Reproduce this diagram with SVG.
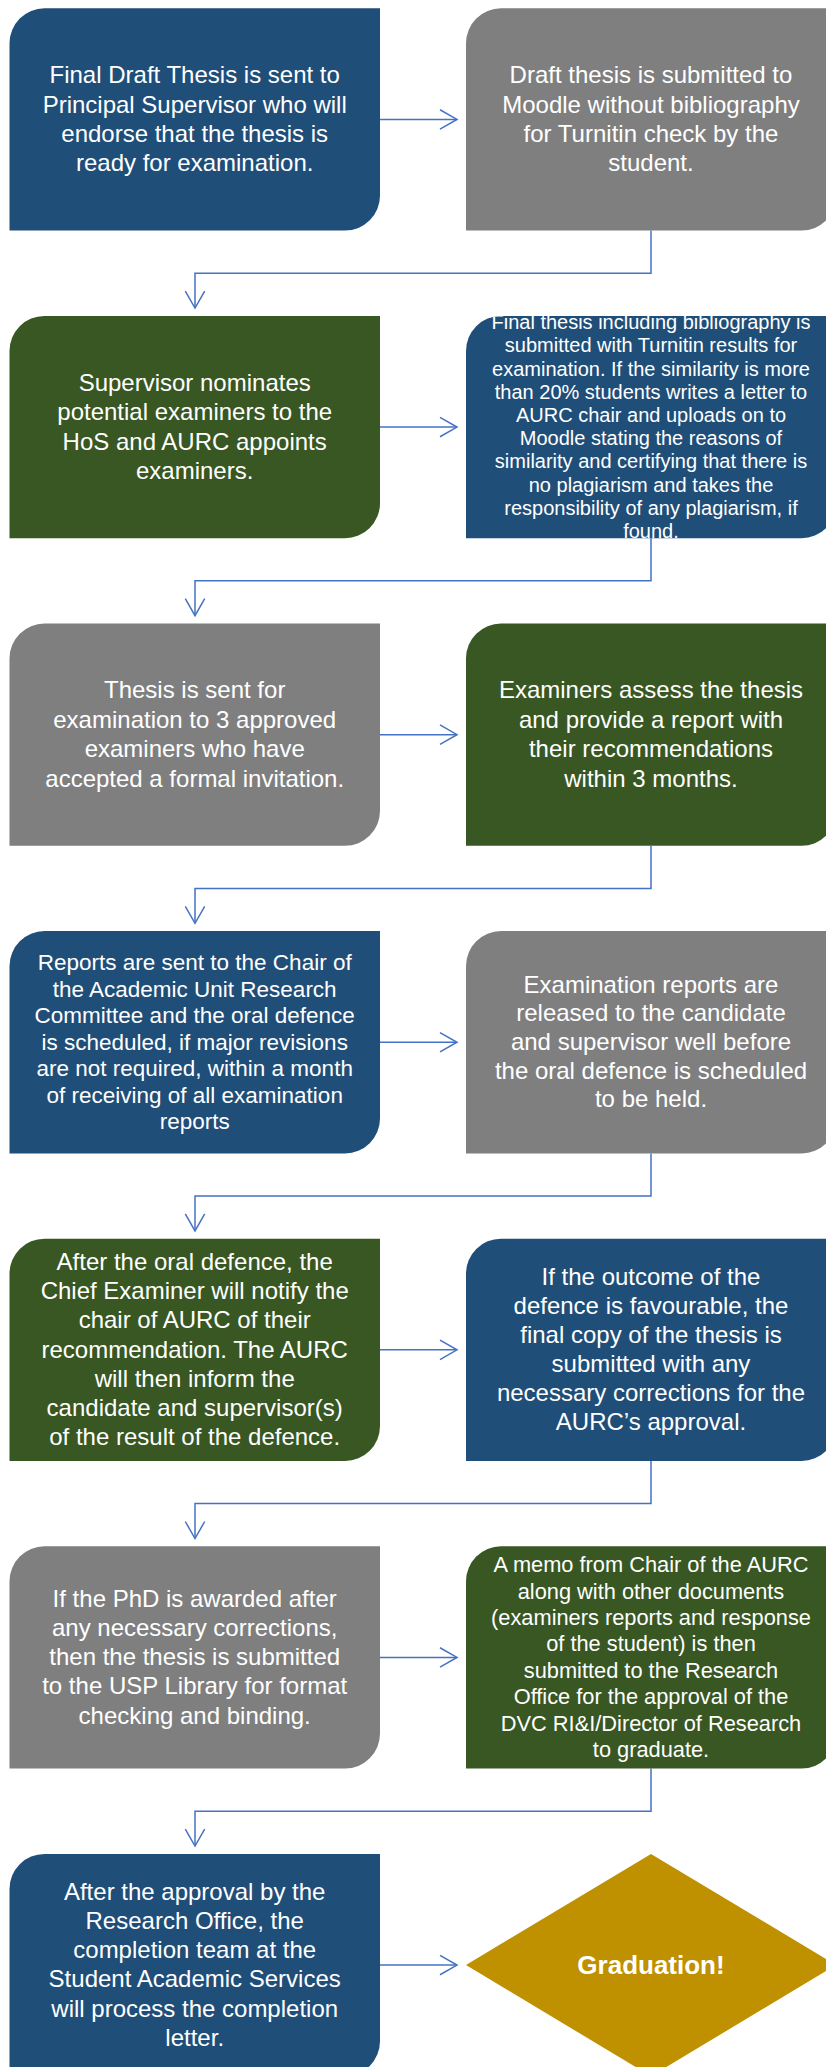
<svg xmlns="http://www.w3.org/2000/svg" width="826" height="2067" viewBox="0 0 826 2067">
<style>
.blue{fill:#1F4E79}
.gray{fill:#7F7F7F}
.green{fill:#385723}
.gold{fill:#BF9000}
text{fill:#FFFFFF;font-family:"Liberation Sans",Arial,sans-serif;text-anchor:middle}
.t24{font-size:24px}
.t20{font-size:20px}
.t22{font-size:22.5px}
.t21{font-size:21.8px}
.tb{font-size:26px;font-weight:bold}
.conn{fill:none;stroke:#4472C4;stroke-width:1.5}
</style>
<defs>
<marker id="arr" markerUnits="userSpaceOnUse" markerWidth="40" markerHeight="40" viewBox="-20 -20 40 40" refX="0" refY="0" orient="auto">
<path d="M-17,-9.7 L0,0 L-17,9.7" fill="none" stroke="#4472C4" stroke-width="1.5"/>
</marker>
<clipPath id="clip1R"><path d="M501,315.9 H836.5 V503.2 A35,35 0 0 1 801.5,538.2 H466 V350.9 A35,35 0 0 1 501,315.9 Z"/></clipPath>
</defs>
<rect width="826" height="2067" fill="#FFFFFF"/>

<g id="connectors">
<path class="conn" d="M380,119.45 H457" marker-end="url(#arr)"/>
<path class="conn" d="M380,427.05 H457" marker-end="url(#arr)"/>
<path class="conn" d="M380,734.65 H457" marker-end="url(#arr)"/>
<path class="conn" d="M380,1042.25 H457" marker-end="url(#arr)"/>
<path class="conn" d="M380,1349.85 H457" marker-end="url(#arr)"/>
<path class="conn" d="M380,1657.45 H457" marker-end="url(#arr)"/>
<path class="conn" d="M380,1965.05 H457" marker-end="url(#arr)"/>
<path class="conn" d="M651,230.6 V273.2 H195 V308.1" marker-end="url(#arr)"/>
<path class="conn" d="M651,538.2 V580.8 H195 V615.7" marker-end="url(#arr)"/>
<path class="conn" d="M651,845.8 V888.4 H195 V923.3" marker-end="url(#arr)"/>
<path class="conn" d="M651,1153.4 V1196 H195 V1230.9" marker-end="url(#arr)"/>
<path class="conn" d="M651,1461 V1503.6 H195 V1538.5" marker-end="url(#arr)"/>
<path class="conn" d="M651,1768.6 V1811.2 H195 V1846.1" marker-end="url(#arr)"/>
</g>

<g id="n0L">
<path class="blue" d="M44.5,8.3 H380 V195.6 A35,35 0 0 1 345,230.6 H9.5 V43.3 A35,35 0 0 1 44.5,8.3 Z"/>
<text class="t24" x="194.7" y="83">Final Draft Thesis is sent to</text>
<text class="t24" x="194.7" y="112.5">Principal Supervisor who will</text>
<text class="t24" x="194.7" y="141.9">endorse that the thesis is</text>
<text class="t24" x="194.7" y="171.3">ready for examination.</text>
</g>
<g id="n0R">
<path class="gray" d="M501,8.3 H836.5 V195.6 A35,35 0 0 1 801.5,230.6 H466 V43.3 A35,35 0 0 1 501,8.3 Z"/>
<text class="t24" x="651" y="83">Draft thesis is submitted to</text>
<text class="t24" x="651" y="112.5">Moodle without bibliography</text>
<text class="t24" x="651" y="141.9">for Turnitin check by the</text>
<text class="t24" x="651" y="171.3">student.</text>
</g>

<g id="n1L">
<path class="green" d="M44.5,315.9 H380 V503.2 A35,35 0 0 1 345,538.2 H9.5 V350.9 A35,35 0 0 1 44.5,315.9 Z"/>
<text class="t24" x="194.7" y="390.7">Supervisor nominates</text>
<text class="t24" x="194.7" y="420">potential examiners to the</text>
<text class="t24" x="194.7" y="449.5">HoS and AURC appoints</text>
<text class="t24" x="194.7" y="478.9">examiners.</text>
</g>
<g id="n1R">
<path class="blue" d="M501,315.9 H836.5 V503.2 A35,35 0 0 1 801.5,538.2 H466 V350.9 A35,35 0 0 1 501,315.9 Z"/>
<g clip-path="url(#clip1R)">
<text class="t20" x="651" y="329.2">Final thesis including bibliography is</text>
</g>
<text class="t20" x="651" y="352.4">submitted with Turnitin results for</text>
<text class="t20" x="651" y="375.6">examination. If the similarity is more</text>
<text class="t20" x="651" y="398.8">than 20% students writes a letter to</text>
<text class="t20" x="651" y="422">AURC chair and uploads on to</text>
<text class="t20" x="651" y="445.2">Moodle stating the reasons of</text>
<text class="t20" x="651" y="468.4">similarity and certifying that there is</text>
<text class="t20" x="651" y="491.6">no plagiarism and takes the</text>
<text class="t20" x="651" y="514.8">responsibility of any plagiarism, if</text>
<text class="t20" x="651" y="538">found.</text>
</g>

<g id="n2L">
<path class="gray" d="M44.5,623.5 H380 V810.8 A35,35 0 0 1 345,845.8 H9.5 V658.5 A35,35 0 0 1 44.5,623.5 Z"/>
<text class="t24" x="194.7" y="698.3">Thesis is sent for</text>
<text class="t24" x="194.7" y="727.7">examination to 3 approved</text>
<text class="t24" x="194.7" y="757">examiners who have</text>
<text class="t24" x="194.7" y="786.5">accepted a formal invitation.</text>
</g>
<g id="n2R">
<path class="green" d="M501,623.5 H836.5 V810.8 A35,35 0 0 1 801.5,845.8 H466 V658.5 A35,35 0 0 1 501,623.5 Z"/>
<text class="t24" x="651" y="698.3">Examiners assess the thesis</text>
<text class="t24" x="651" y="727.7">and provide a report with</text>
<text class="t24" x="651" y="757">their recommendations</text>
<text class="t24" x="651" y="786.5">within 3 months.</text>
</g>

<g id="n3L">
<path class="blue" d="M44.5,931.1 H380 V1118.4 A35,35 0 0 1 345,1153.4 H9.5 V966.1 A35,35 0 0 1 44.5,931.1 Z"/>
<text class="t22" x="194.7" y="970">Reports are sent to the Chair of</text>
<text class="t22" x="194.7" y="996.5">the Academic Unit Research</text>
<text class="t22" x="194.7" y="1023">Committee and the oral defence</text>
<text class="t22" x="194.7" y="1049.5">is scheduled, if major revisions</text>
<text class="t22" x="194.7" y="1076">are not required, within a month</text>
<text class="t22" x="194.7" y="1102.5">of receiving of all examination</text>
<text class="t22" x="194.7" y="1129">reports</text>
</g>
<g id="n3R">
<path class="gray" d="M501,931.1 H836.5 V1118.4 A35,35 0 0 1 801.5,1153.4 H466 V966.1 A35,35 0 0 1 501,931.1 Z"/>
<text class="t24" x="651" y="992.5">Examination reports are</text>
<text class="t24" x="651" y="1021.3">released to the candidate</text>
<text class="t24" x="651" y="1050">and supervisor well before</text>
<text class="t24" x="651" y="1078.7">the oral defence is scheduled</text>
<text class="t24" x="651" y="1107.4">to be held.</text>
</g>

<g id="n4L">
<path class="green" d="M44.5,1238.7 H380 V1426 A35,35 0 0 1 345,1461 H9.5 V1273.7 A35,35 0 0 1 44.5,1238.7 Z"/>
<text class="t24" x="194.7" y="1270">After the oral defence, the</text>
<text class="t24" x="194.7" y="1299.2">Chief Examiner will notify the</text>
<text class="t24" x="194.7" y="1328.4">chair of AURC of their</text>
<text class="t24" x="194.7" y="1357.6">recommendation. The AURC</text>
<text class="t24" x="194.7" y="1386.8">will then inform the</text>
<text class="t24" x="194.7" y="1416">candidate and supervisor(s)</text>
<text class="t24" x="194.7" y="1445.2">of the result of the defence.</text>
</g>
<g id="n4R">
<path class="blue" d="M501,1238.7 H836.5 V1426 A35,35 0 0 1 801.5,1461 H466 V1273.7 A35,35 0 0 1 501,1238.7 Z"/>
<text class="t24" x="651" y="1284.8">If the outcome of the</text>
<text class="t24" x="651" y="1313.9">defence is favourable, the</text>
<text class="t24" x="651" y="1343">final copy of the thesis is</text>
<text class="t24" x="651" y="1372.1">submitted with any</text>
<text class="t24" x="651" y="1401.2">necessary corrections for the</text>
<text class="t24" x="651" y="1430.3">AURC’s approval.</text>
</g>

<g id="n5L">
<path class="gray" d="M44.5,1546.3 H380 V1733.6 A35,35 0 0 1 345,1768.6 H9.5 V1581.3 A35,35 0 0 1 44.5,1546.3 Z"/>
<text class="t24" x="194.7" y="1606.7">If the PhD is awarded after</text>
<text class="t24" x="194.7" y="1635.9">any necessary corrections,</text>
<text class="t24" x="194.7" y="1665.2">then the thesis is submitted</text>
<text class="t24" x="194.7" y="1694.4">to the USP Library for format</text>
<text class="t24" x="194.7" y="1723.7">checking and binding.</text>
</g>
<g id="n5R">
<path class="green" d="M501,1546.3 H836.5 V1733.6 A35,35 0 0 1 801.5,1768.6 H466 V1581.3 A35,35 0 0 1 501,1546.3 Z"/>
<text class="t21" x="651" y="1572.2">A memo from Chair of the AURC</text>
<text class="t21" x="651" y="1598.6">along with other documents</text>
<text class="t21" x="651" y="1625">(examiners reports and response</text>
<text class="t21" x="651" y="1651.4">of the student) is then</text>
<text class="t21" x="651" y="1677.8">submitted to the Research</text>
<text class="t21" x="651" y="1704.2">Office for the approval of the</text>
<text class="t21" x="651" y="1730.6">DVC RI&amp;I/Director of Research</text>
<text class="t21" x="651" y="1757">to graduate.</text>
</g>

<g id="n6L">
<path class="blue" d="M44.5,1853.9 H380 V2041.2 A35,35 0 0 1 345,2076.2 H9.5 V1888.9 A35,35 0 0 1 44.5,1853.9 Z"/>
<text class="t24" x="194.7" y="1899.8">After the approval by the</text>
<text class="t24" x="194.7" y="1929">Research Office, the</text>
<text class="t24" x="194.7" y="1958.2">completion team at the</text>
<text class="t24" x="194.7" y="1987.4">Student Academic Services</text>
<text class="t24" x="194.7" y="2016.6">will process the completion</text>
<text class="t24" x="194.7" y="2045.8">letter.</text>
</g>
<g id="n6R">
<polygon class="gold" points="651,1853.9 836,1965 651,2076.2 466,1965"/>
<text class="tb" x="651" y="1974.3">Graduation!</text>
</g>
</svg>
